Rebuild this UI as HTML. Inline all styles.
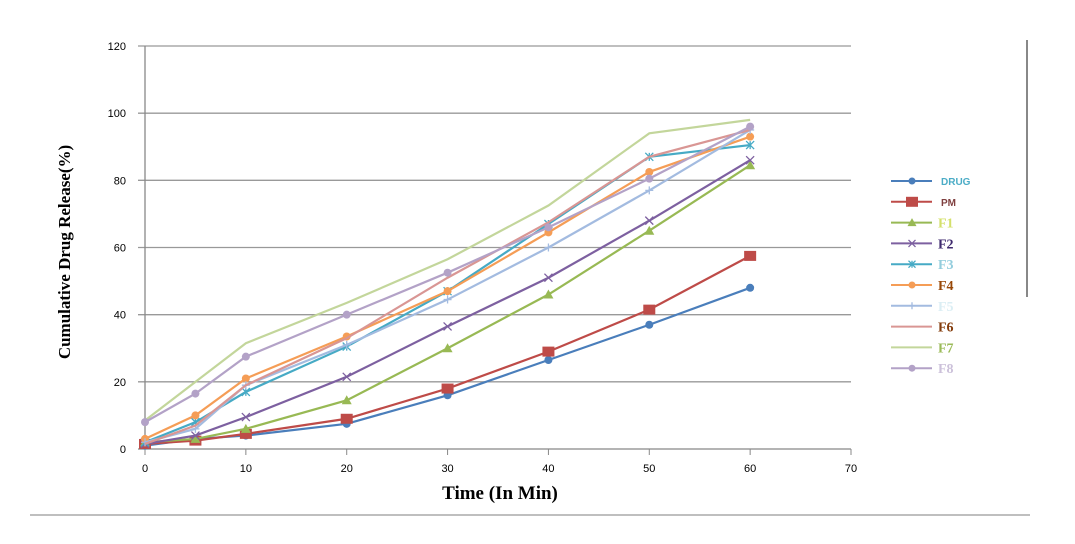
<!DOCTYPE html>
<html><head><meta charset="utf-8"><style>
body{margin:0;background:#fff;width:1075px;height:544px;overflow:hidden}
svg{display:block}
</style></head><body>
<svg id="chart" width="1075" height="544" viewBox="0 0 1075 544" font-family="Liberation Sans, sans-serif">
<line x1="1027" y1="40" x2="1027" y2="297" stroke="#888" stroke-width="2"/>
<line x1="30" y1="515" x2="1030" y2="515" stroke="#aaa" stroke-width="1.5"/>
<g id="grid"></g><g id="series"></g><g id="legend"></g>
<text transform="translate(70,252) rotate(-90)" text-anchor="middle" font-family="Liberation Serif, serif" font-weight="bold" font-size="17">Cumulative Drug Release(%)</text>
<text x="500" y="499" text-anchor="middle" font-family="Liberation Serif, serif" font-weight="bold" font-size="19">Time (In Min)</text>
</svg>
<script>
const xTicks=[0,10,20,30,40,50,60,70];
const yTicks=[0,20,40,60,80,100,120];
const times=[0,5,10,20,30,40,50,60];
const names=['DRUG','PM','F1','F2','F3','F4','F5','F6','F7','F8'];
const sDRUG=[1,3,4,7.5,16,26.5,37,48];
const sPM=[1.5,2.5,4.5,9,18,29,41.5,57.5];
const sF1=[2,3,6,14.5,30,46,65,84.5];
const sF2=[1.5,4,9.5,21.5,36.5,51,68,86];
const sF3=[2,8,17,30.5,47,67,87,90.5];
const sF4=[3,10,21,33.5,47,64.5,82.5,93];
const sF5=[2,6,19,31,44.5,60,77,95];
const sF6=[1.5,7,19,33,51,67.5,87,95];
const sF7=[8.5,20,31.5,43.5,56.5,72.5,94,98];
const sF8=[8,16.5,27.5,40,52.5,66,80.5,96];
const all=[sDRUG,sPM,sF1,sF2,sF3,sF4,sF5,sF6,sF7,sF8];
const colors=['#4a7ebb','#be4b48','#98b954','#7d60a0','#46aac5','#f59d56','#a3bbe0','#d99694','#c3d69b','#b3a2c7'];
const markers=['circle','square','tri','x','star','circle','plus','none','none','circle'];
const labelColors=['#4bacc6','#7f3f3f','#d4e06b','#3f2a6e','#93cddd','#984807','#dbeef4','#843c0c','#9bbb59','#ccc1da'];
const X=v=>145+v*(851-145)/70, Y=v=>449-v*(449-46)/120;
const NS='http://www.w3.org/2000/svg';
function mk(t,a,p){const e=document.createElementNS(NS,t);for(const k in a)e.setAttribute(k,a[k]);p.appendChild(e);return e;}
const grid=document.getElementById('grid'),ser=document.getElementById('series'),leg=document.getElementById('legend');
yTicks.forEach(v=>{const l=mk('line',{x1:138,x2:851,y1:Y(v),y2:Y(v),stroke:v?'#999':'#888','stroke-width':1.3},grid);


const t=mk('text',{x:126,y:Y(v)+4,'text-anchor':'end','font-size':11,fill:'#000'},grid);t.textContent=v;

});
mk('line',{x1:145,x2:145,y1:46,y2:449,stroke:'#888','stroke-width':1.3},grid);
xTicks.forEach(v=>{mk('line',{x1:X(v),x2:X(v),y1:449,y2:455,stroke:'#888'},grid);
const t=mk('text',{x:X(v),y:472,'text-anchor':'middle','font-size':11},grid);t.textContent=v;

});
function marker(g,m,x,y,c,s){
 if(m==='circle')mk('circle',{cx:x,cy:y,r:s,fill:c},g);
 else if(m==='square')mk('rect',{x:x-s-1,y:y-s,width:2*s+2,height:2*s,fill:c},g);
 else if(m==='tri')mk('polygon',{points:`${x},${y-s-1} ${x-s-1},${y+s} ${x+s+1},${y+s}`,fill:c},g);
 else if(m==='x'){mk('path',{d:`M${x-s} ${y-s}L${x+s} ${y+s}M${x-s} ${y+s}L${x+s} ${y-s}`,stroke:c,'stroke-width':1.3},g);}
 else if(m==='star'){mk('path',{d:`M${x-s} ${y-s}L${x+s} ${y+s}M${x-s} ${y+s}L${x+s} ${y-s}M${x} ${y-s}L${x} ${y+s}`,stroke:c,'stroke-width':1.3},g);}
 else if(m==='plus'){mk('path',{d:`M${x-s} ${y}L${x+s} ${y}M${x} ${y-s}L${x} ${y+s}`,stroke:c,'stroke-width':1.3},g);}
}
all.forEach((s,i)=>{const g=mk('g',{},ser);


mk('polyline',{points:s.map((v,j)=>X(times[j])+','+Y(v)).join(' '),fill:'none',stroke:colors[i],'stroke-width':2.2},g);
s.forEach((v,j)=>marker(g,markers[i],X(times[j]),Y(v),colors[i],i===1?5:4));
const ly=181+i*20.8;const lg=mk('g',{},leg);


mk('line',{x1:891,x2:932,y1:ly,y2:ly,stroke:colors[i],'stroke-width':2},lg);
marker(lg,markers[i],912,ly,colors[i],i===1?5:3.5);
const big=i>=2;const t=mk('text',{x:big?938:941,y:ly+(big?5:4),'font-size':big?14:10,'font-weight':'bold','font-family':big?'Liberation Serif, serif':'Liberation Sans, sans-serif',fill:labelColors[i]},lg);t.textContent=names[i];});
</script>
</body></html>
